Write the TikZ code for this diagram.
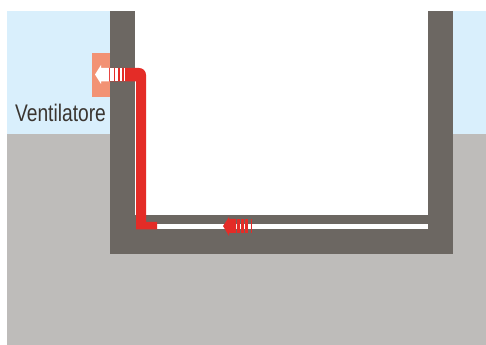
\documentclass[tikz,border=0pt]{standalone}
\usepackage{fontspec}
\setmainfont[FakeStretch=0.8]{Liberation Sans}
\usepackage{xcolor}
\definecolor{skyblue}{HTML}{D9EFFC}
\definecolor{soilgray}{HTML}{BEBCBA}
\definecolor{wallgray}{HTML}{6C6762}
\definecolor{ductred}{HTML}{E42C27}
\definecolor{fansalmon}{HTML}{F29274}
\definecolor{labelink}{HTML}{3A3530}

\begin{document}
\begin{tikzpicture}[
  x=0.75pt, y=-0.75pt,
  wall/.style={fill=wallgray},
  duct/.style={fill=ductred},
  slit/.style={fill=white},
  lbl/.style={inner sep=0pt, text=labelink, font=\fontsize{18pt}{20pt}\selectfont}
]
\useasboundingbox (0,0) rectangle (486,345);
% background
\fill[skyblue] (7,11) rectangle (486,134);
\fill[soilgray] (7,134) rectangle (486,345);
\fill[white] (135,0) rectangle (428,229);
% walls and floor
\fill[wall] (110,11) rectangle (135,254);
\fill[wall] (428,11) rectangle (453,254);
\fill[wall] (110,229) rectangle (453,254);
\fill[wall] (135,215) rectangle (428,224);
\fill[fansalmon] (92,53) rectangle (110,97);
% duct
\fill[duct] (109,68) -- (139,68) .. controls (143,68) and (146,71) .. (146,75) -- (146,222) -- (157,222) -- (157,229.5) -- (136,229.5) -- (136,81.5) -- (109,81.5) -- cycle;
\fill[wall] (135,222) rectangle (136,229);
% outlet arrow
\fill[white] (95,74.5) -- (101,65) -- (101,68) -- (109,68) -- (109,81.5) -- (101,81.5) -- (101,84) -- cycle;
\foreach \xa/\xb in {110/114, 115.3/118, 120/122, 124/125} {
  \fill[slit] (\xa,68) rectangle (\xb,81.5);
}
% return arrow
\fill[duct] (223,226) -- (229,217) -- (229,219) -- (236,219) -- (236,233) -- (229,233) -- (229,236) -- cycle;
\foreach \xa/\xb in {237/240.3, 241.3/244, 245.3/248, 251.3/252.3} {
  \fill[duct] (\xa,219) rectangle (\xb,233);
}
\node[lbl] (fanlabel) at (60.5,113) {Ventilatore};
\end{tikzpicture}
\end{document}
